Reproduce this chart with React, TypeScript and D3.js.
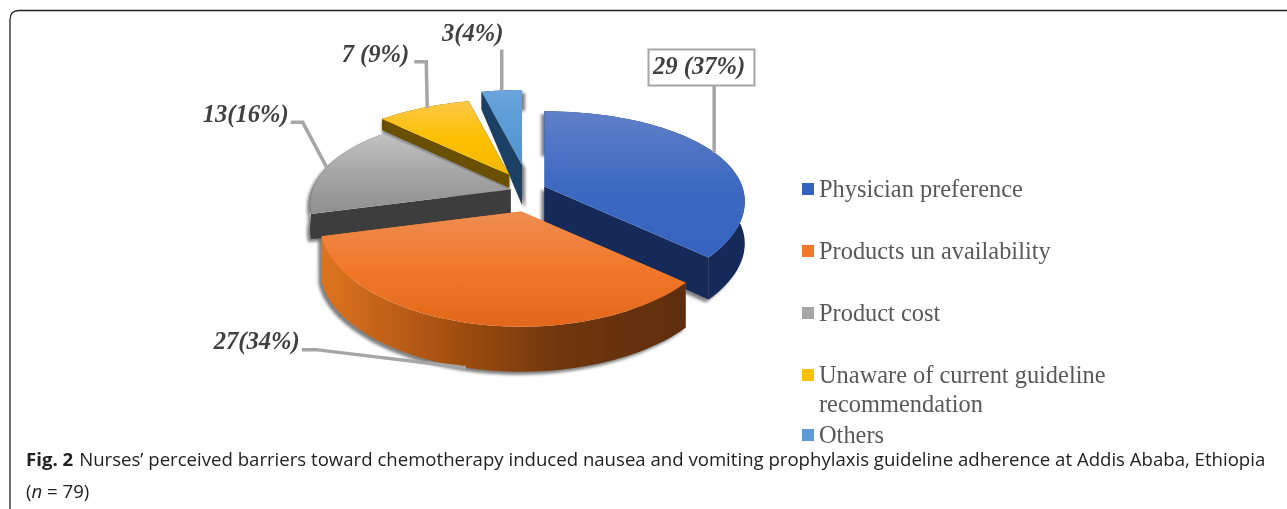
import * as d3 from 'd3';

const categories = ['Physician preference', 'Products un availability', 'Product cost', 'Unaware of current guideline recommendation', 'Others'];
const counts = [29, 27, 13, 7, 3];
const dataLabels = ['29 (37%)', '27(34%)', '13(16%)', '7 (9%)', '3(4%)'];
const legendLines = [['Physician preference'], ['Products un availability'], ['Product cost'], ['Unaware of current guideline', 'recommendation'], ['Others']];

// look of each slice, same order as categories
const topColors = [
  ['#6080c8', '#3d69c1', '#3563bf'],
  ['#ee8d52', '#f1782a', '#e2671a'],
  ['#c2c2c2', '#a5a5a5', '#8f8f8f'],
  ['#fdc848', '#fbc002', '#f5b800'],
  ['#6ba5dd', '#5b9bd5', '#5592cc'],
];
const wallColors = ['#14295a', '#dd7420', '#3d3d3d', '#6b5000', '#1f4164'];
const swatchColors = ['#3563bf', '#f1782a', '#a5a5a5', '#fbc002', '#5b9bd5'];
const explode = [21, 16, 18, 28, 33];
const nudgeX = [0, 0, 3, -2, 1];
const nudgeY = [-1, 0, -2, 3, 2];
const outerDepth = [42, 45, 25, 11, 18];
const apexDepth = [40, 45, 36, 13, 40];
const shadowDx = [-3, -3, -3, 0, 3];
const drawOrder = [4, 3, 2, 0, 1];

const cx = 525, cy = 196, rx = 198, ry = 91, perspX = 0.16, perspY = 0.21;

// tilted disc with a bit of perspective, so the front is bigger than the back
const project = (a: number): [number, number] => {
  const X = Math.sin(a), Z = Math.cos(a);
  return [(X * rx) / (1 + perspX * Z), (-Z * ry) / (1 + perspY * Z)];
};

const arcs = d3.pie<number>().sort(null).value((d) => d)(counts);
const line = d3.line();

const slices = arcs.map((arc, i) => {
  const mid = (arc.startAngle + arc.endAngle) / 2;
  const ax = cx + Math.sin(mid) * explode[i] + nudgeX[i];
  const ay = cy - Math.cos(mid) * explode[i] + nudgeY[i];
  const at = (a: number, dy = 0): [number, number] => {
    const [x, y] = project(a);
    return [ax + x, ay + y + dy];
  };
  const angles = d3.range(0, 61).map((k) => arc.startAngle + ((arc.endAngle - arc.startAngle) * k) / 60);
  const rim = angles.map((a) => at(a));
  const rimLow = angles.map((a) => at(a, outerDepth[i])).reverse();
  const top = line([[ax, ay], ...rim])! + 'Z';
  const side = line([...rim, ...rimLow])! + 'Z';
  const wall = (a: number) =>
    line([[ax, ay], at(a), at(a, outerDepth[i]), [ax, ay + apexDepth[i]]])! + 'Z';
  return { i, mid, ax, ay, at, top, side, wallA: wall(arc.startAngle), wallB: wall(arc.endAngle) };
});

// leader lines start on the rim at the middle of the slice
const leader = (i: number): [number, number][] => {
  const s = slices[i];
  if (i === 1) {
    const p = s.at(s.mid, outerDepth[1]);
    return [p, [p[0] - 150, p[1] - 18], [p[0] - 164, p[1] - 18]];
  }
  const p = s.at(s.mid);
  if (i === 2) return [p, [p[0] - 24, p[1] - 45], [p[0] - 36, p[1] - 45]];
  if (i === 3) return [[p[0] + 4, p[1]], [p[0] + 3, p[1] - 46], [p[0] - 9, p[1] - 46]];
  if (i === 0) return [p, [p[0], p[1] - 69]];
  return [p, [p[0], p[1] - 41]];
};

// where each data label sits relative to the outer end of its leader
const labelEnd = (i: number): [number, number, 'start' | 'middle' | 'end'] => {
  const pts = leader(i);
  const e = pts[pts.length - 1];
  if (i === 0) return [e[0] - 15, e[1] - 9, 'middle'];
  if (i === 4) return [e[0] - 29, e[1] - 8, 'middle'];
  return [e[0] - (i === 3 ? 5 : 2), e[1] + (i === 1 ? -1 : 0), 'end'];
};

const legendY = [197, 259, 321, 383, 443];

export default function App() {
  const serif = '"Liberation Serif", serif';
  const sans = '"Open Sans", sans-serif';
  return (
    <svg width={1287} height={509} style={{ position: 'absolute', left: 0, top: 0, display: 'block', background: '#fff' }}>
      <defs>
        <filter id="sh" x="-10%" y="-10%" width="120%" height="125%">
          <feGaussianBlur stdDeviation="1.6" />
        </filter>
        <filter id="soft" x="-5%" y="-5%" width="110%" height="110%">
          <feGaussianBlur stdDeviation="0.45" />
        </filter>
        {topColors.map((c, i) => (
          <linearGradient key={i} id={`top${i}`} x1="0" y1="0" x2="0" y2="1">
            <stop offset="0" stopColor={c[0]} />
            <stop offset="0.5" stopColor={c[1]} />
            <stop offset="1" stopColor={c[2]} />
          </linearGradient>
        ))}
        <linearGradient id="side1" x1="0" y1="0" x2="1" y2="0">
          <stop offset="0" stopColor="#dd7420" />
          <stop offset="0.3" stopColor="#ad5412" />
          <stop offset="0.65" stopColor="#70360b" />
          <stop offset="1" stopColor="#5f2e08" />
        </linearGradient>
      </defs>

      <path d="M1287,10.5 H19 Q10,10.5 10,20 V509" fill="none" stroke="#222" strokeWidth={1.3} />

      <g filter="url(#soft)">
        {drawOrder.map((i) => {
          const s = slices[i];
          const sideFill = i === 1 ? 'url(#side1)' : wallColors[i];
          return (
            <g key={i}>
              <g transform={`translate(${shadowDx[i]},3)`} filter="url(#sh)" fill="#555" opacity={0.75}>
                <path d={s.side} />
                <path d={s.wallA} />
                <path d={s.wallB} />
              </g>
              <path d={s.wallA} fill={wallColors[i]} />
              <path d={s.wallB} fill={wallColors[i]} />
              <path d={s.side} fill={sideFill} />
              <path d={s.top} fill={`url(#top${i})`} />
            </g>
          );
        })}

        {slices.map((s) => (
          <path key={s.i} d={line(leader(s.i))!} fill="none" stroke="#a6a6a6" strokeWidth={3.5} />
        ))}

        <rect x={648.5} y={49.5} width={106} height={36} fill="#fff" stroke="#a6a6a6" strokeWidth={2} />
        {dataLabels.map((t, i) => {
          const [x, y, anchor] = labelEnd(i);
          return (
            <text key={t} x={x} y={y} textAnchor={anchor} fontFamily={serif} fontSize={24.6} fontWeight="bold" fontStyle="italic" fill="#404040">
              {t}
            </text>
          );
        })}

        {categories.map((c, i) => (
          <g key={c}>
            <rect x={802} y={legendY[i] - 14} width={12} height={12} fill={swatchColors[i]} />
            {legendLines[i].map((l, k) => (
              <text key={l} x={819} y={legendY[i] + k * 29} fontFamily={serif} fontSize={24.4} fill="#595959">
                {l}
              </text>
            ))}
          </g>
        ))}
      </g>

      <text x={26} y={466} fontFamily={sans} fontSize={18.6} fill="#222">
        <tspan fontWeight="bold">Fig. 2</tspan>
        <tspan dx={6}>Nurses’ perceived barriers toward chemotherapy induced nausea and vomiting prophylaxis guideline adherence at Addis Ababa, Ethiopia</tspan>
      </text>
      <text x={26} y={498} fontFamily={sans} fontSize={18.6} fill="#222">
        (<tspan fontStyle="italic">n</tspan> = 79)
      </text>
    </svg>
  );
}
